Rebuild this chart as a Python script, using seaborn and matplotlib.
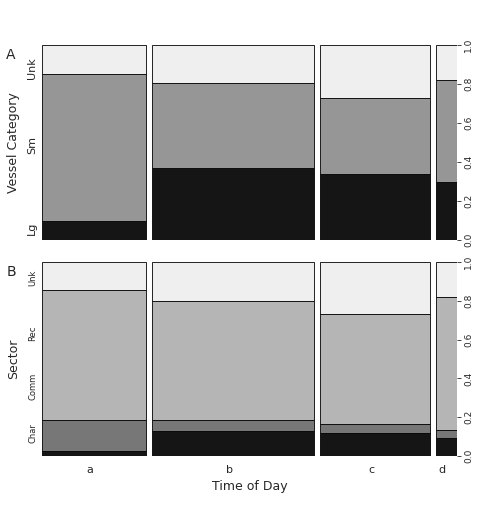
import matplotlib
matplotlib.use("Agg")
import matplotlib.pyplot as plt
import seaborn as sns
import numpy as np

sns.set_style("white")
plt.rcParams['font.family'] = ['DejaVu Sans']

times = ["a", "b", "c", "d"]
time_widths = [104, 162, 110, 21]
vessel_cats = ["Lg", "Sm", "Unk"]
vessel_vals = [[0.10, 0.75, 0.15],
               [0.37, 0.435, 0.195],
               [0.34, 0.39, 0.27],
               [0.30, 0.52, 0.18]]
vessel_colors = ["#151515", "#969696", "#efefef"]
vessel_label_pos = [0.06, 0.49, 0.88]
sector_cats = ["Char", "Comm", "Rec", "Unk"]
sector_vals = [[0.026, 0.16, 0.67, 0.144],
               [0.13, 0.056, 0.614, 0.20],
               [0.12, 0.045, 0.565, 0.27],
               [0.09, 0.044, 0.686, 0.18]]
sector_colors = ["#151515", "#777777", "#b5b5b5", "#efefef"]
sector_label_pos = [0.12, 0.36, 0.635, 0.92]

fig = plt.figure(figsize=(4.78, 5.14), dpi=100)
axA = fig.add_axes([0.088, 0.533, 0.868, 0.379])
axB = fig.add_axes([0.088, 0.113, 0.868, 0.377])

gap = 5.5
lefts = []
x = 0
for w in time_widths:
    lefts.append(x)
    x += w + gap
total = x - gap

def draw(ax, vals, colors, cats, pos, label, letter, fs):
    for i, (l, w) in enumerate(zip(lefts, time_widths)):
        b = 0
        for v, c in zip(vals[i], colors):
            ax.bar(l, v, width=w, bottom=b, align="edge", color=c, edgecolor="black", linewidth=0.6)
            b += v
    ax.set_xlim(0, total)
    ax.set_ylim(0, 1)
    for s in ax.spines.values():
        s.set_visible(False)
    ax.set_xticks([])
    ax.yaxis.tick_right()
    ax.set_yticks([0, 0.2, 0.4, 0.6, 0.8, 1.0])
    ax.set_yticklabels(["0.0", "0.2", "0.4", "0.6", "0.8", "1.0"], rotation=90, va="center", fontsize=6.5)
    ax.tick_params(axis="y", length=3, width=0.6, pad=2)
    for p, cat in zip(pos, cats):
        ax.text(-0.012, p, cat, rotation=90, ha="right", va="center", fontsize=fs,
                transform=ax.transAxes)
    ax.text(-0.068, 0.5, label, rotation=90, ha="center", va="center", fontsize=9, transform=ax.transAxes)
    ax.text(-0.075, 0.95, letter, ha="center", va="center", fontsize=10, transform=ax.transAxes)

draw(axA, vessel_vals, vessel_colors, vessel_cats, vessel_label_pos, "Vessel Category", "A", 8)
draw(axB, sector_vals, sector_colors, sector_cats, sector_label_pos, "Sector", "B", 6)

for l, w, t in zip(lefts, time_widths, times):
    axB.text(l + w / 2 - 4, -0.075, t, ha="center", va="center", fontsize=8, transform=axB.transData)
axB.text(0.5, -0.16, "Time of Day", ha="center", va="center", fontsize=9, transform=axB.transAxes)

fig.savefig("out.png", dpi=100, facecolor="white")
